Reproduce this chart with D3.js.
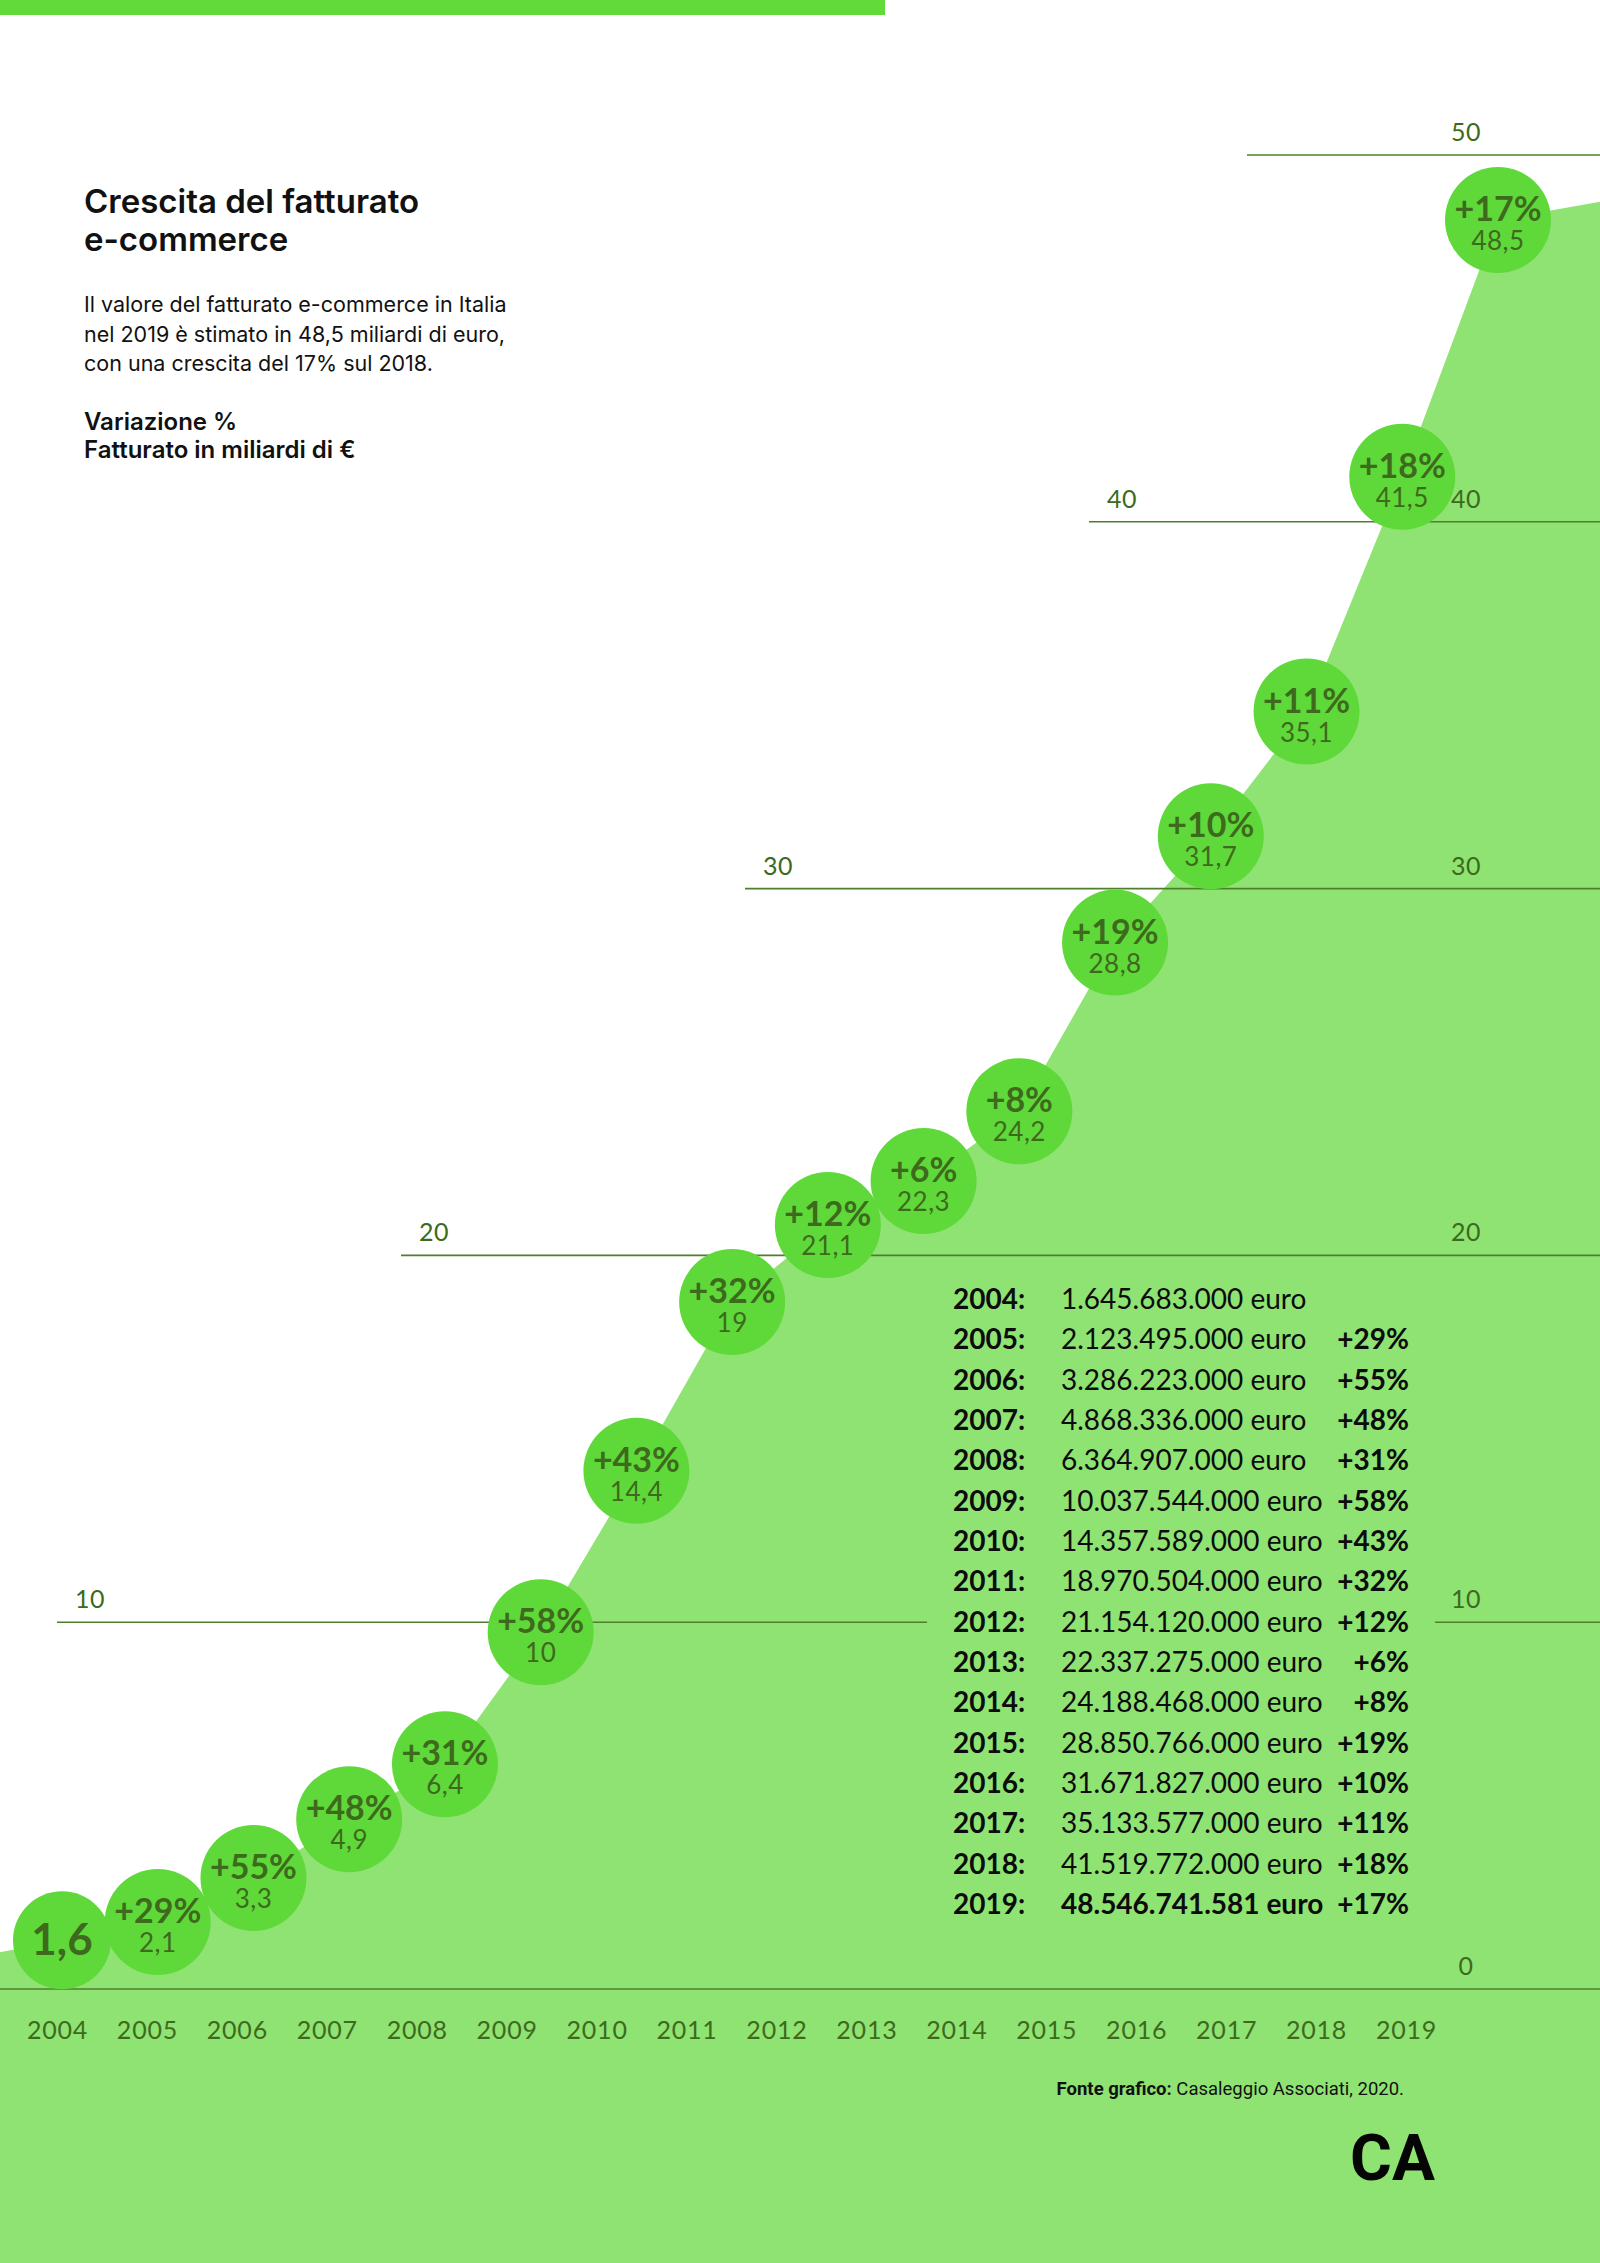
<!DOCTYPE html>
<html>
<head>
<meta charset="utf-8">
<script src="https://cdn.jsdelivr.net/npm/d3@7/dist/d3.min.js"></script>
<style>
body { margin: 0; background: #fff; }
svg { display: block; }
</style>
</head>
<body>
<div id="container"></div>
<script>
// data read from the infographic
var years = [2004, 2005, 2006, 2007, 2008, 2009, 2010, 2011, 2012, 2013, 2014, 2015, 2016, 2017, 2018, 2019];
var fatturato = [1.6, 2.1, 3.3, 4.9, 6.4, 10, 14.4, 19, 21.1, 22.3, 24.2, 28.8, 31.7, 35.1, 41.5, 48.5];
var variazione = [null, 29, 55, 48, 31, 58, 43, 32, 12, 6, 8, 19, 10, 11, 18, 17];
var euro = ["1.645.683.000", "2.123.495.000", "3.286.223.000", "4.868.336.000", "6.364.907.000",
            "10.037.544.000", "14.357.589.000", "18.970.504.000", "21.154.120.000", "22.337.275.000",
            "24.188.468.000", "28.850.766.000", "31.671.827.000", "35.133.577.000", "41.519.772.000",
            "48.546.741.581"];
var yTicks = [0, 10, 20, 30, 40, 50];

var W = 1600, H = 2263;
var AREA = "#8fe373", DOT = "#5fd93a", DARK = "#3d6a1c", GRID = "#4f7f2c";

var svg = d3.select("#container").append("svg")
    .attr("width", W).attr("height", H)
    .attr("viewBox", "0 0 " + W + " " + H);

var y = d3.scaleLinear().domain([0, 50]).range([1989, 155]);
var xDot = d3.scaleLinear().domain([2004, 2019]).range([62, 1498]);
var xYear = d3.scalePoint().domain(years).range([57, 1406]);

function fmt(v) { return String(v).replace(".", ","); }

// top bar
svg.append("rect").attr("x", 0).attr("y", 0).attr("width", 885).attr("height", 15).attr("fill", "#62db3a");

// area, dots sit a bit under the value line
var pts = years.map(function (yr, i) { return [xDot(yr), y(fatturato[i]) + 10]; });
var p0 = pts[0], p1 = pts[1];
var left = [0, p0[1] - (p1[1] - p0[1]) / (p1[0] - p0[0]) * p0[0]];
var right = [W, y(fatturato[fatturato.length - 1] + 0.5) + 10];
var areaPts = [left].concat(pts, [right]);

var area = d3.area().x(function (d) { return d[0]; }).y0(H).y1(function (d) { return d[1]; });
svg.append("path").attr("d", area(areaPts)).attr("fill", AREA);

// gridlines
function gridStart(t) {
  if (t === 0) return 0;
  if (t === 50) return 1247;
  return 57 + (t / 10 - 1) * 344;
}
var grid = svg.append("g");
grid.selectAll("line").data(yTicks).enter().append("line")
    .attr("x1", gridStart).attr("x2", W)
    .attr("y1", function (t) { return y(t); }).attr("y2", function (t) { return y(t); })
    .attr("stroke", GRID).attr("stroke-width", 1.6);
grid.selectAll("text.r").data(yTicks).enter().append("text").attr("class", "r")
    .attr("x", 1466).attr("y", function (t) { return y(t) - 14; })
    .attr("text-anchor", "middle")
    .style("font", "25px Lato").style("letter-spacing", "0.5px").attr("fill", DARK)
    .text(function (t) { return t; });
grid.selectAll("text.l").data(yTicks.filter(function (t) { return t > 0 && t < 50; })).enter().append("text").attr("class", "l")
    .attr("x", function (t) { return gridStart(t) + 18; }).attr("y", function (t) { return y(t) - 14; })
    .style("font", "25px Lato").style("letter-spacing", "0.5px").attr("fill", DARK)
    .text(function (t) { return t; });

// table box hides the 10 line behind it
svg.append("rect").attr("x", 927).attr("y", 1266).attr("width", 508).attr("height", 670).attr("fill", AREA);

// year axis
var ax = svg.append("g").attr("transform", "translate(0,1989)")
    .call(d3.axisBottom(xYear).tickSize(0).tickPadding(32));
ax.select(".domain").remove();
ax.selectAll("text").style("font-size", "25px").style("font-family", "Lato")
    .style("letter-spacing", "0.8px").attr("fill", DARK);

// bubbles
var dots = svg.append("g").selectAll("g").data(years).enter().append("g")
    .attr("transform", function (yr, i) { return "translate(" + pts[i][0] + "," + pts[i][1] + ")"; });
dots.append("circle").attr("r", function (yr, i) { return i === 0 ? 49 : 53; }).attr("fill", DOT);
dots.append("text")
    .attr("text-anchor", "middle")
    .attr("y", function (yr, i) { return i === 0 ? 15 : 1; })
    .style("font-family", "Lato").style("font-weight", 700)
    .style("font-size", function (yr, i) { return i === 0 ? "44px" : "34px"; })
    .attr("fill", DARK)
    .text(function (yr, i) { return i === 0 ? fmt(fatturato[0]) : "+" + variazione[i] + "%"; });
dots.filter(function (yr, i) { return i > 0; }).append("text")
    .attr("text-anchor", "middle").attr("y", 30)
    .style("font", "26px Lato").style("letter-spacing", "0.5px").attr("fill", DARK)
    .text(function (yr) { return fmt(fatturato[years.indexOf(yr)]); });

// table
var rowY = d3.scalePoint().domain(years).range([1309, 1914]);
var rows = svg.append("g").selectAll("g").data(years).enter().append("g")
    .attr("transform", function (yr) { return "translate(0," + rowY(yr) + ")"; })
    .style("font-family", "Lato").style("font-size", "28px").attr("fill", "#0c0c0c");
rows.append("text").attr("x", 953).style("font-weight", 700).text(function (yr) { return yr + ":"; });
rows.append("text").attr("x", 1061)
    .style("font-weight", function (yr, i) { return i === years.length - 1 ? 700 : 400; })
    .text(function (yr, i) { return euro[i] + " euro"; });
rows.append("text").attr("x", 1409).attr("text-anchor", "end").style("font-weight", 700)
    .text(function (yr, i) { return variazione[i] === null ? "" : "+" + variazione[i] + "%"; });

// title block
var tb = svg.append("g").style("font-family", "Inter").attr("fill", "#111");
tb.append("text").attr("x", 84).attr("y", 213).style("font-size", "33px").style("font-weight", 600).text("Crescita del fatturato");
tb.append("text").attr("x", 84).attr("y", 251).style("font-size", "33px").style("font-weight", 600).text("e-commerce");
var para = ["Il valore del fatturato e-commerce in Italia",
            "nel 2019 è stimato in 48,5 miliardi di euro,",
            "con una crescita del 17% sul 2018."];
tb.selectAll("text.p").data(para).enter().append("text").attr("class", "p")
    .attr("x", 84).attr("y", function (d, i) { return 312 + i * 29.5; })
    .style("font-size", "21.5px").text(function (d) { return d; });
tb.append("text").attr("x", 84).attr("y", 430).style("font-size", "24px").style("font-weight", 600).text("Variazione %");
tb.append("text").attr("x", 84).attr("y", 458).style("font-size", "24px").style("font-weight", 600).text("Fatturato in miliardi di €");

// source + logo
var src = svg.append("text").attr("x", 1404).attr("y", 2095).attr("text-anchor", "end")
    .style("font-family", "Roboto").style("font-size", "18.5px").attr("fill", "#111");
src.append("tspan").style("font-weight", 700).text("Fonte grafico: ");
src.append("tspan").text("Casaleggio Associati, 2020.");
svg.append("text").attr("x", 1350).attr("y", 2180)
    .style("font-family", "Roboto").style("font-weight", 700).style("font-size", "64px")
    .attr("fill", "#050505").text("CA");
</script>
</body>
</html>
